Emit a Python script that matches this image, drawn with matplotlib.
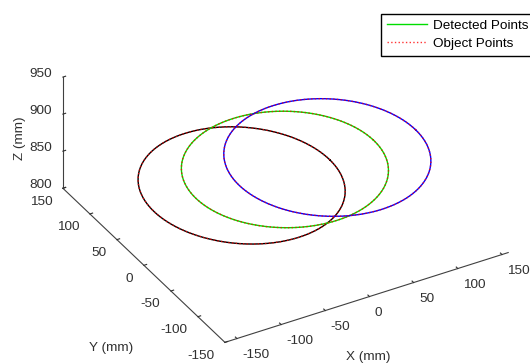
import numpy as np
import matplotlib
matplotlib.use("Agg")
import matplotlib.pyplot as plt
from matplotlib.transforms import Affine2D
from mpl_toolkits.mplot3d import proj3d

plt.rcParams['font.family'] = ['Liberation Sans', 'DejaVu Sans']
plt.rcParams['axes.unicode_minus'] = False

# ---- values ----
center_x = [-53.0, -4.0, 44.0]        # mm, circle centres
center_y = [0.0, 0.0, 0.0]            # mm
center_z = [866.0, 869.0, 867.0]      # mm
radius = [100.0, 100.0, 100.0]        # mm
slope_x = [-0.035, 0.02, -0.005]      # dz/dx of each circle plane
slope_y = [0.02, -0.015, 0.008]       # dz/dy of each circle plane
detected_colors = ["black", "#00dd00", "blue"]
object_color = "red"
x_ticks = [-150, -100, -50, 0, 50, 100, 150]
y_ticks = [-150, -100, -50, 0, 50, 100, 150]
z_ticks = [800, 850, 900, 950]
x_limits = (-163.6, 157.0)
y_limits = (-150.0, 150.0)
z_limits = (800.0, 950.0)
legend_labels = ["Detected Points", "Object Points"]
axis_labels = ["X (mm)", "Y (mm)", "Z (mm)"]

FS = 9.7
W, H = 530, 364
fig = plt.figure(figsize=(W / 100, H / 100), dpi=100)
ax = fig.add_axes([0.1, 0.1, 0.8, 0.8], projection='3d', proj_type='ortho')
ax.set_box_aspect((327, 324, 133))
ax.view_init(elev=33.3, azim=-120.0)

t = np.linspace(0, 2 * np.pi, 361)
det_lines, obj_lines = [], []
for i in range(len(center_x)):
    x = center_x[i] + radius[i] * np.cos(t)
    y = center_y[i] + radius[i] * np.sin(t)
    z = center_z[i] + slope_x[i] * (x - center_x[i]) + slope_y[i] * (y - center_y[i])
    l1, = ax.plot(x, y, z, color=detected_colors[i], lw=1.0)
    l2, = ax.plot(x, y, z, color=object_color, ls=':', lw=1.0, alpha=0.8)
    det_lines.append(l1)
    obj_lines.append(l2)

ax.set_xlim(*x_limits)
ax.set_ylim(*y_limits)
ax.set_zlim(*z_limits)
ax.set_xticks(x_ticks)
ax.set_yticks(y_ticks)
ax.set_zticks(z_ticks)
ax.grid(False)

axc = '#404040'
for axis in (ax.xaxis, ax.yaxis, ax.zaxis):
    axis.set_pane_color((1, 1, 1, 0))
    axis.pane.set_edgecolor((1, 1, 1, 0))
    axis.line.set_color(axc)
    axis.line.set_linewidth(0.8)
    axis._axinfo['tick']['inward_factor'] = 0.0
    axis._axinfo['tick']['outward_factor'] = 0.12
ax.tick_params(colors='#303030', labelsize=FS, width=0.8, pad=-1)

tc_ = '#303030'
fig.text(368 / W, 1 - 357 / H, axis_labels[0], fontsize=FS, color=tc_,
         ha='center', va='center')
fig.text(111 / W, 1 - 348 / H, axis_labels[1], fontsize=FS, color=tc_,
         ha='center', va='center')
fig.text(20 / W, 1 - 138 / H, axis_labels[2], fontsize=FS, color=tc_,
         ha='center', va='center', rotation=90)

fig.legend([det_lines[1], obj_lines[0]], legend_labels, loc='upper left',
           bbox_to_anchor=(381 / W, 1 - 13.5 / H), borderaxespad=0,
           fancybox=False, edgecolor='black', framealpha=1, fontsize=FS,
           handlelength=3.0, handletextpad=0.4, borderpad=0.45, labelspacing=0.4)


# tick labels: keep an extra pixel offset on each axis (mplot3d resets the
# label transform on every draw, so re-apply it there)
def patch_ticks(axis_obj, ha):
    orig = axis_obj.get_major_ticks
    off = Affine2D()

    def patched(numticks=None):
        ticks = orig(numticks)
        for tk in ticks:
            tk.label1.set_transform(ax.transData + off)
            tk.label1.set_horizontalalignment(ha)
            tk.label1.set_verticalalignment('center')
        return ticks

    axis_obj.get_major_ticks = patched
    return off


offs = [patch_ticks(ax.xaxis, 'left'), patch_ticks(ax.yaxis, 'right'),
        patch_ticks(ax.zaxis, 'right')]

# fit axes position so the box corners land where they are in the reference
pts = [(x_limits[0], y_limits[0], z_limits[0]),
       (x_limits[1], y_limits[0], z_limits[0]),
       (x_limits[0], y_limits[1], z_limits[1])]
tgt = np.array([(225, H - 343), (508, H - 252), (63, H - 77)], float)


def proj_px(p):
    X, Y, _ = proj3d.proj_transform(p[0], p[1], p[2], ax.get_proj())
    return ax.transData.transform((X, Y))


for _ in range(4):
    fig.canvas.draw()
    pos = ax.get_position()
    cx = (pos.x0 + pos.x1) / 2 * W
    cy = (pos.y0 + pos.y1) / 2 * H
    S = pos.width * W
    cur = np.array([proj_px(p) for p in pts])
    cc = cur.mean(0)
    tc = tgt.mean(0)
    k = np.sqrt(((tgt - tc) ** 2).sum() / ((cur - cc) ** 2).sum())
    ncx = tc[0] - k * (cc[0] - cx)
    ncy = tc[1] - k * (cc[1] - cy)
    nS = k * S
    ax.set_position([(ncx - nS / 2) / W, (ncy - nS / 2) / H, nS / W, nS / H])

fig.canvas.draw()
specs = [(ax.xaxis, lambda v: (v, y_limits[0], z_limits[0]), (5.5, -16.5)),
         (ax.yaxis, lambda v: (x_limits[0], v, z_limits[0]), (-10.5, -13.5)),
         (ax.zaxis, lambda v: (x_limits[0], y_limits[1], v), (-11.0, 3.0))]
for (axis_obj, to3d, (ox, oy)), off in zip(specs, offs):
    d = []
    for tk in axis_obj.get_major_ticks():
        if tk.label1.get_text() == '':
            continue
        anchor = ax.transData.transform(tk.label1.get_position())
        d.append(anchor - proj_px(to3d(tk.get_loc())))
    d = np.mean(d, axis=0)
    off.translate(ox - d[0], oy - d[1])

fig.savefig('out.png', dpi=100)
